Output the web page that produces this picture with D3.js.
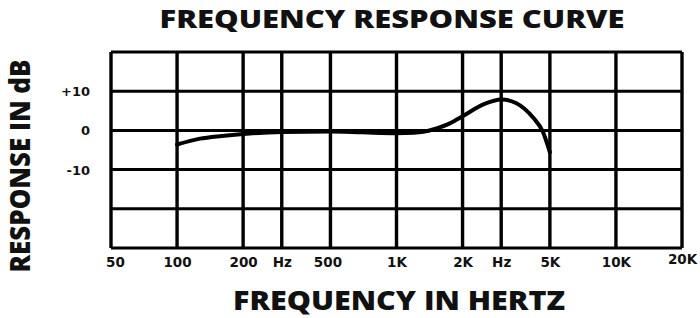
<title>Frequency response curve</title>
<script src="https://d3js.org/d3.v7.min.js"></script>
<style>
    body { margin: 0; background: #fff; }
    svg text { font-family: "DejaVu Sans", sans-serif; font-weight: 700; fill: #111; }
    svg text.big { font-family: "Open Sans", sans-serif; }
</style>
<div id="chart"></div>
<script>
    // x grid / tick labels (Hz)
    let freqTicks = [50, 100, 200, 300, 500, 1000, 2000, 3000, 5000, 10000, 20000];
    let freqLabels = ["50", "100", "200", "Hz", "500", "1K", "2K", "Hz", "5K", "10K", "20K"];
    // y grid (dB) and which get a label
    let dbGrid = [20, 10, 0, -10, -20, -30];
    let dbLabels = { "10": "+10", "0": "0", "-10": "-10" };

    // curve
    let curveFreq = [100, 127, 160, 200, 300, 500, 700, 1000, 1200, 1400, 1500, 1750, 2000, 2500, 3000, 3500, 4200, 4650, 5000];
    let curveDb   = [-3.6, -2.1, -1.4, -0.9, -0.4, -0.3, -0.5, -0.7, -0.6, -0.1, 0.4, 1.8, 3.6, 6.7, 7.9, 7.0, 3.2, -0.4, -5.6];

    var W = 700, H = 318;
    var plotL = 111, plotR = 682, plotT = 52, plotB = 248;

    var x = d3.scaleLog().domain([50, 20000]).range([plotL, plotR]);
    var y = d3.scaleLinear().domain([-30, 20]).range([plotB, plotT]);

    var svg = d3.select("#chart").append("svg")
        .attr("width", W).attr("height", H);

    // title
    svg.append("text").attr("class", "big")
        .attr("x", 392).attr("y", 28)
        .attr("text-anchor", "middle")
        .attr("textLength", 465).attr("lengthAdjust", "spacingAndGlyphs")
        .style("font-size", "25.5px").style("font-weight", 800)
        .text("FREQUENCY RESPONSE CURVE");

    // grid
    svg.append("g").selectAll("line")
        .data(freqTicks)
        .enter().append("line")
        .attr("x1", d => x(d)).attr("x2", d => x(d))
        .attr("y1", plotT).attr("y2", plotB)
        .attr("stroke", "#000").attr("stroke-width", 3.4);

    svg.append("g").selectAll("line")
        .data(dbGrid)
        .enter().append("line")
        .attr("x1", plotL).attr("x2", plotR)
        .attr("y1", d => y(d)).attr("y2", d => y(d))
        .attr("stroke", "#000").attr("stroke-width", 3);

    // x tick labels through the axis
    var xAxis = d3.axisBottom(x)
        .tickValues(freqTicks)
        .tickFormat((d, i) => freqLabels[i])
        .tickSize(0).tickPadding(0);
    var gx = svg.append("g").attr("transform", "translate(0," + plotB + ")").call(xAxis);
    gx.select(".domain").remove();
    gx.selectAll("text")
        .attr("y", 19).attr("dy", null)
        .style("font-size", "13.5px")
        .attr("fill", "#111")
        .attr("dx", d => d === 50 ? 4 : d === 500 ? -3 : 0)
        .attr("transform", d => d === 20000 ? "translate(0,-3)" : null);

    // y tick labels
    var yAxis = d3.axisLeft(y)
        .tickValues(Object.keys(dbLabels).map(Number))
        .tickFormat(d => dbLabels[String(d)])
        .tickSize(0).tickPadding(0);
    var gy = svg.append("g").attr("transform", "translate(90,0)").call(yAxis);
    gy.select(".domain").remove();
    gy.selectAll("text")
        .attr("x", 0).attr("dy", "0.35em")
        .style("font-size", "13px")
        .attr("fill", "#111");

    // response curve
    var line = d3.line()
        .x((d, i) => x(curveFreq[i]))
        .y(d => y(d))
        .curve(d3.curveMonotoneX);
    svg.append("path")
        .datum(curveDb)
        .attr("d", line)
        .attr("fill", "none")
        .attr("stroke", "#000")
        .attr("stroke-width", 4)
        .attr("stroke-linecap", "round");

    // axis titles
    svg.append("text").attr("class", "big")
        .attr("x", 399).attr("y", 310)
        .attr("text-anchor", "middle")
        .attr("textLength", 332).attr("lengthAdjust", "spacingAndGlyphs")
        .style("font-size", "27px").style("font-weight", 800)
        .text("FREQUENCY IN HERTZ");

    svg.append("text").attr("class", "big")
        .attr("transform", "translate(30,166) rotate(-90)")
        .attr("text-anchor", "middle")
        .attr("textLength", 213).attr("lengthAdjust", "spacingAndGlyphs")
        .style("font-size", "29px").style("font-weight", 800)
        .text("RESPONSE IN dB");
</script>
